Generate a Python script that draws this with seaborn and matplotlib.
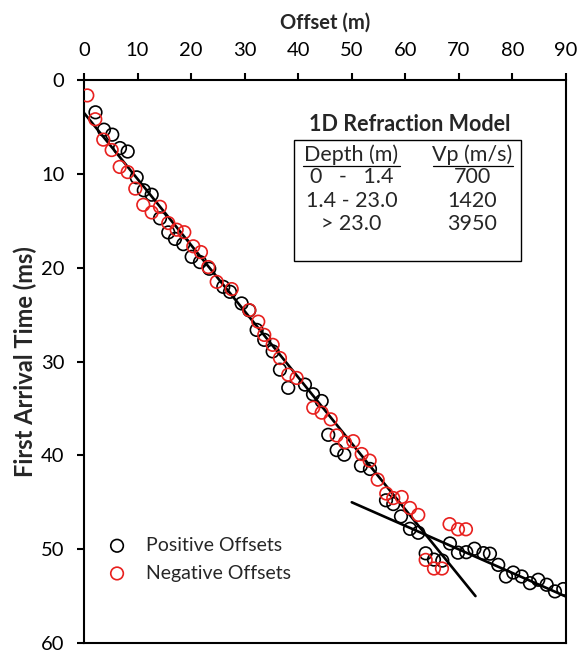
import numpy as np
import pandas as pd
import matplotlib
matplotlib.use("Agg")
import matplotlib.pyplot as plt
import seaborn as sns

# first arrival picks (offset in m, time in ms)
pos_offset = [2.15, 3.73, 5.28, 6.72, 8.16, 9.84, 11.17, 12.64, 14.19, 15.74, 16.99, 18.54,
              20.11, 21.66, 23.39, 26.01, 27.26, 29.44, 30.86, 32.24, 33.66, 35.23, 36.59,
              38.14, 41.26, 42.76, 44.38, 45.61, 47.18, 48.60, 51.72, 53.40, 56.39, 57.75,
              59.19, 60.87, 62.42, 63.80, 65.35, 66.90, 68.33, 69.83, 71.38, 72.91, 74.59,
              75.80, 77.35, 78.79, 80.15, 81.72, 83.27, 84.82, 86.39, 87.94, 89.49]
pos_time = [3.44, 5.29, 5.82, 7.25, 7.62, 10.37, 11.75, 12.22, 14.74, 16.24, 16.93, 17.49,
            18.84, 19.40, 20.11, 22.04, 22.57, 23.81, 24.55, 26.63, 27.69, 28.92, 30.87,
            32.80, 32.46, 33.49, 34.21, 37.81, 39.44, 39.93, 41.09, 41.45, 44.79, 45.19,
            46.51, 47.83, 48.25, 50.44, 51.11, 51.22, 49.39, 50.37, 50.32, 49.95, 50.42,
            50.48, 51.67, 52.91, 52.49, 52.91, 53.62, 53.26, 53.79, 54.50, 54.25]

neg_offset = [0.62, 2.11, 3.60, 5.17, 6.67, 8.16, 9.58, 11.07, 12.64, 14.19, 15.74, 17.31,
              18.73, 20.41, 21.84, 23.21, 24.78, 27.58, 30.86, 32.54, 33.66, 35.23, 36.59,
              38.14, 39.71, 42.81, 44.38, 46.06, 47.18, 48.73, 50.28, 51.85, 53.34, 54.84,
              56.44, 57.75, 59.32, 60.87, 62.42, 63.80, 65.35, 66.84, 68.26, 69.83, 71.32]
neg_time = [1.64, 4.18, 6.35, 7.46, 9.26, 9.81, 11.57, 13.30, 14.11, 13.51, 15.24, 15.95,
            16.22, 17.72, 18.34, 19.93, 21.51, 22.28, 24.52, 25.75, 27.16, 28.22, 29.63,
            31.40, 31.75, 34.92, 35.45, 36.16, 37.88, 38.62, 38.49, 39.86, 40.56, 42.59,
            44.07, 44.55, 44.44, 45.61, 46.35, 51.14, 52.06, 52.06, 47.33, 47.88, 47.88]

# fitted refraction branches (end points)
line1_x = [0.0, 73.1]
line1_t = [3.5, 55.0]
line2_x = [50.0, 90.2]
line2_t = [45.0, 55.1]

x_ticks = [0, 10, 20, 30, 40, 50, 60, 70, 80, 90]
y_ticks = [0, 10, 20, 30, 40, 50, 60]

sns.set_style("ticks")
plt.rcParams["font.family"] = ["Lato", "DejaVu Sans"]

fig = plt.figure(figsize=(5.82, 6.55), dpi=100)
ax = fig.add_axes([0.1443, 0.0183, 0.8282, 0.8595])

sns.lineplot(x=line1_x, y=line1_t, color="black", linewidth=1.9, sort=False, ax=ax)
sns.lineplot(x=line2_x, y=line2_t, color="black", linewidth=1.9, sort=False, ax=ax)

sns.scatterplot(x=pos_offset, y=pos_time, marker="o", s=82, facecolor="none",
                edgecolor="black", linewidth=1.2, label="Positive Offsets", ax=ax, zorder=3)
sns.scatterplot(x=neg_offset, y=neg_time, marker="o", s=82, facecolor="none",
                edgecolor="#e8201e", linewidth=1.2, label="Negative Offsets", ax=ax, zorder=3)

ax.set_xlim(0, 90)
ax.set_ylim(60, 0)
ax.set_xticks(x_ticks)
ax.set_yticks(y_ticks)
ax.xaxis.tick_top()
ax.xaxis.set_label_position("top")
ax.tick_params(axis="both", direction="out", length=5, width=1.5, labelsize=14.5,
               colors="black")
ax.tick_params(axis="x", pad=10)
ax.tick_params(axis="y", pad=9)
ax.set_xlabel("Offset (m)", fontsize=14.5, fontweight="bold", labelpad=10)
ax.set_ylabel("First Arrival Time (ms)", fontsize=17, fontweight="bold", labelpad=3)
for sp in ax.spines.values():
    sp.set_visible(True)
    sp.set_linewidth(1.5)
    sp.set_color("black")

leg = ax.legend(loc="lower left", bbox_to_anchor=(0.0, 0.085), frameon=False, fontsize=14,
                handletextpad=0.5, labelspacing=0.55, borderaxespad=0.3)

# 1D model table
fs = 15.5
ax.text(0.676, 0.921, "1D Refraction Model", transform=ax.transAxes, ha="center",
        va="center", fontsize=fs, fontweight="bold")
ax.add_patch(plt.Rectangle((0.436, 0.679), 0.471, 0.215, transform=ax.transAxes,
                           fill=False, edgecolor="black", linewidth=1.0))
ax.text(0.555, 0.868, "Depth (m)", transform=ax.transAxes, ha="center", va="center", fontsize=fs)
ax.text(0.806, 0.868, "Vp (m/s)", transform=ax.transAxes, ha="center", va="center", fontsize=fs)
ax.plot([0.454, 0.656], [0.847, 0.847], transform=ax.transAxes, color="black", linewidth=0.9)
ax.plot([0.725, 0.890], [0.847, 0.847], transform=ax.transAxes, color="black", linewidth=0.9)

depth_rows = ["0   -   1.4", "1.4 - 23.0", "> 23.0"]
vp_rows = ["700", "1420", "3950"]
row_y = [0.828, 0.786, 0.744]
for d, v, yy in zip(depth_rows, vp_rows, row_y):
    ax.text(0.555, yy, d, transform=ax.transAxes, ha="center", va="center", fontsize=fs)
    ax.text(0.806, yy, v, transform=ax.transAxes, ha="center", va="center", fontsize=fs)

fig.savefig("out.png", dpi=100)
